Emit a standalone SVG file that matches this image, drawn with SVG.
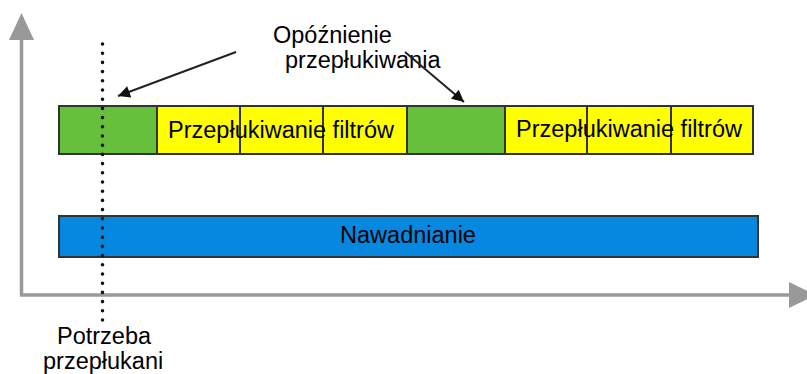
<svg xmlns="http://www.w3.org/2000/svg" width="807" height="374" viewBox="0 0 807 374">
  <style>
    .box { stroke: #333333; stroke-width: 2; }
    .green { fill: #66C03C; }
    .yellow { fill: #FFFF00; }
    .blue { fill: #0788E0; }
    .lbl { font-family: "Liberation Sans", Arial, sans-serif; font-size: 23.5px; fill: #000000; }
    .axis { stroke: #999999; stroke-width: 3.5; fill: none; }
    .ptr { stroke: #222222; stroke-width: 2; fill: none; }
  </style>
  <defs>
    <marker id="ah" viewBox="0 0 10 10" refX="10" refY="5" markerWidth="6.5" markerHeight="6" markerUnits="strokeWidth" orient="auto">
      <path d="M0,0 L10,5 L0,10 z" fill="#111111"/>
    </marker>
  </defs>
  <rect width="807" height="374" fill="#ffffff"/>

  <g id="axes">
    <line class="axis" x1="21.5" y1="295" x2="21.5" y2="38"/>
    <polygon points="21.5,13 9,40 34,40" fill="#999999"/>
    <line class="axis" x1="20" y1="295" x2="791" y2="295"/>
    <polygon points="789,282 789,308 816,295" fill="#999999"/>
  </g>

  <g id="flush-row">
    <g id="green1"><rect class="box green" x="59" y="106" width="98" height="48"/></g>
    <g id="yellow1"><rect class="box yellow" x="157" y="106" width="83" height="48"/></g>
    <g id="yellow2"><rect class="box yellow" x="240" y="106" width="83" height="48"/></g>
    <g id="yellow3"><rect class="box yellow" x="323" y="106" width="84" height="48"/></g>
    <g id="green2"><rect class="box green" x="407" y="106" width="98" height="48"/></g>
    <g id="yellow4"><rect class="box yellow" x="505" y="106" width="82" height="48"/></g>
    <g id="yellow5"><rect class="box yellow" x="587" y="106" width="84" height="48"/></g>
    <g id="yellow6"><rect class="box yellow" x="671" y="106" width="82" height="48"/></g>
    <text class="lbl" x="281" y="138" text-anchor="middle">Przepłukiwanie filtrów</text>
    <text class="lbl" x="629" y="137" text-anchor="middle">Przepłukiwanie filtrów</text>
  </g>

  <g id="irrigation">
    <rect class="box blue" x="59" y="216" width="699" height="41"/>
    <text class="lbl" x="408" y="243" text-anchor="middle">Nawadnianie</text>
  </g>

  <g id="delay-label">
    <text class="lbl" x="273" y="43">Opóźnienie</text>
    <text class="lbl" x="285" y="68">przepłukiwania</text>
  </g>

  <g id="need-label">
    <text class="lbl" x="57" y="344">Potrzeba</text>
    <text class="lbl" x="43" y="369">przepłukani</text>
  </g>

  <g id="connectors">
    <line x1="102.5" y1="44" x2="102.5" y2="320" stroke="#111111" stroke-width="3.6" stroke-linecap="round" stroke-dasharray="0 9.2"/>
    <line class="ptr" x1="236" y1="52" x2="118" y2="96" marker-end="url(#ah)"/>
    <line class="ptr" x1="405" y1="52" x2="464" y2="102" marker-end="url(#ah)"/>
  </g>
</svg>
